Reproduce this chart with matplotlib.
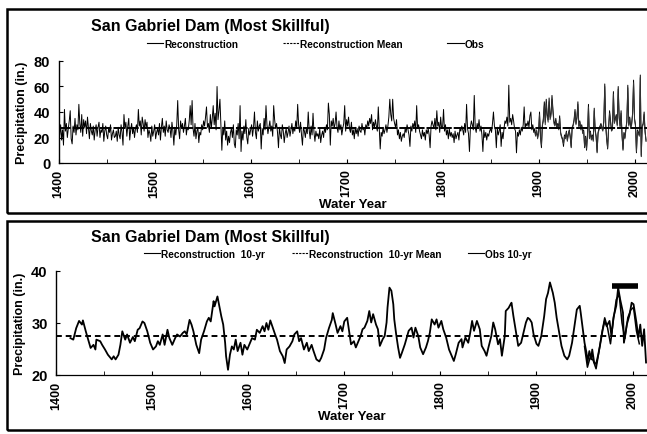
import numpy as np
import matplotlib
matplotlib.use("Agg")
import matplotlib.pyplot as plt
from matplotlib.patches import Rectangle
from matplotlib.lines import Line2D

# ---- annual reconstruction, water years 1400-2012 ----
recon_start = 1400
recon = [
    28, 22, 30, 18, 26, 14, 42, 25, 31, 20,   # 1400
    27, 33, 41, 19, 15, 29, 24, 35, 22, 30,   # 1410
    26, 46, 31, 24, 38, 21, 34, 28, 33, 23,   # 1420
    36, 27, 19, 31, 25, 22, 29, 18, 26, 30,   # 1430
    21, 28, 32, 20, 26, 24, 31, 17, 25, 29,   # 1440
    22, 19, 27, 24, 30, 18, 23, 26, 20, 21,   # 1450
    25, 17, 28, 22, 19, 30, 24, 14, 38, 27,   # 1460
    32, 21, 29, 35, 18, 26, 31, 23, 28, 20,   # 1470
    27, 30, 24, 42, 29, 33, 22, 36, 31, 25,   # 1480
    34, 28, 32, 20, 26, 23, 17, 29, 21, 25,   # 1490
    30, 19, 24, 27, 22, 31, 18, 28, 35, 24,   # 1500
    29, 21, 33, 26, 24, 30, 27, 20, 32, 25,   # 1510
    14, 28, 22, 30, 49, 26, 19, 33, 27, 31,   # 1520
    24, 29, 35, 22, 28, 26, 33, 45, 30, 49,   # 1530
    27, 21, 31, 19, 25, 28, 16, 24, 22, 30,   # 1540
    26, 33, 29, 36, 44, 28, 31, 24, 38, 27,   # 1550
    35, 45, 30, 39, 26, 60, 34, 41, 50, 31,   # 1560
    10, 28, 22, 33, 18, 25, 14, 21, 16, 24,   # 1570
    27, 20, 30, 15, 12, 26, 22, 31, 19, 45,   # 1580
    9, 25, 18, 29, 23, 34, 20, 15, 27, 22,    # 1590
    26, 30, 21, 28, 40, 24, 19, 33, 25, 29,   # 1600
    31, 11, 27, 22, 35, 26, 45, 30, 23, 28,   # 1610
    33, 25, 29, 21, 45, 34, 27, 31, 24, 12,   # 1620
    28, 22, 19, 30, 25, 16, 23, 27, 20, 24,   # 1630
    29, 21, 26, 31, 23, 28, 25, 33, 27, 46,   # 1640
    30, 24, 32, 22, 14, 28, 25, 20, 27, 23,   # 1650
    40, 26, 19, 29, 22, 39, 24, 17, 25, 21,   # 1660
    23, 19, 27, 16, 22, 25, 20, 28, 24, 30,   # 1670
    26, 47, 38, 14, 33, 29, 35, 27, 31, 40,   # 1680
    28, 24, 33, 26, 30, 22, 27, 31, 45, 25,   # 1690
    34, 29, 36, 27, 24, 32, 22, 26, 19, 28,   # 1700
    23, 27, 21, 29, 25, 24, 31, 26, 28, 22,   # 1710
    30, 27, 33, 29, 35, 31, 38, 26, 32, 28,   # 1720
    34, 29, 25, 44, 27, 11, 24, 21, 28, 23,   # 1730
    26, 30, 24, 29, 36, 50, 38, 33, 50, 35,   # 1740
    31, 28, 34, 22, 26, 19, 24, 17, 21, 23,   # 1750
    20, 27, 24, 30, 26, 22, 13, 29, 25, 31,   # 1760
    28, 33, 24, 45, 27, 30, 25, 22, 19, 26,   # 1770
    21, 24, 18, 26, 23, 27, 22, 12, 29, 33,   # 1780
    30, 27, 35, 26, 41, 29, 32, 24, 36, 27,   # 1790
    28, 42, 25, 30, 22, 26, 19, 27, 21, 24,   # 1800
    20, 23, 16, 25, 19, 22, 24, 18, 27, 25,   # 1810
    29, 26, 22, 31, 24, 46, 27, 23, 9, 28,    # 1820
    33, 30, 26, 53, 28, 24, 31, 27, 34, 25,   # 1830
    29, 22, 9, 26, 20, 24, 18, 23, 21, 25,    # 1840
    27, 24, 31, 40, 29, 26, 12, 28, 22, 25,   # 1850
    30, 13, 24, 19, 27, 33, 31, 36, 29, 61,   # 1860
    32, 35, 30, 38, 33, 27, 25, 8, 24, 21,    # 1870
    26, 22, 28, 25, 30, 44, 27, 31, 29, 33,   # 1880
    28, 37, 40, 26, 30, 24, 27, 22, 25, 20,   # 1890
    24, 40, 21, 12, 29, 35, 48, 32, 50, 38,   # 1900
    34, 51, 36, 39, 53, 42, 33, 30, 35, 28,   # 1910
    31, 27, 37, 24, 21, 19, 13, 22, 20, 25,   # 1920
    18, 23, 26, 21, 12, 28, 30, 34, 42, 31,   # 1930
    36, 48, 29, 33, 27, 30, 24, 26, 12, 21,   # 1940
    10, 23, 46, 20, 25, 19, 22, 18, 43, 26,   # 1950
    21, 8, 24, 27, 29, 31, 28, 26, 33, 62,    # 1960
    30, 19, 11, 28, 41, 33, 26, 27, 56, 32,   # 1970
    35, 38, 30, 60, 36, 29, 41, 22, 10, 24,   # 1980
    20, 27, 33, 61, 30, 36, 28, 31, 39, 65,   # 1990
    35, 30, 8, 26, 24, 22, 69, 5, 29, 31,     # 2000
    40, 25, 17,                               # 2010
]

# ---- observed annual record, 1896-2012 ----
obs_start = 1896
obs = [
    24, 21, 26, 19,
    23, 38, 20, 14, 30, 33, 45, 30, 47, 36,
    32, 48, 34, 37, 50, 40, 31, 29, 33, 27,
    30, 26, 35, 23, 20, 18, 15, 21, 19, 24,
    17, 22, 25, 20, 13, 27, 29, 33, 40, 30,
    35, 46, 28, 32, 26, 29, 23, 25, 13, 20,
    11, 22, 44, 19, 24, 18, 21, 17, 41, 25,
    20, 9, 23, 26, 28, 30, 27, 25, 32, 60,
    29, 18, 12, 27, 39, 32, 25, 26, 54, 31,
    34, 37, 29, 58, 35, 28, 39, 21, 11, 23,
    19, 26, 32, 59, 29, 35, 27, 30, 38, 63,
    34, 29, 9, 25, 23, 21, 67, 6, 28, 30,
    38, 24, 18,
]
recon_mean = 27.2

# ---- 10-yr running reconstruction (year, value) ----
smooth_years = [
    1415, 1418, 1421, 1424, 1427, 1428, 1431, 1434, 1436, 1439, 1441, 1442,
    1446, 1448, 1451, 1454, 1458, 1460, 1462, 1465, 1467, 1469, 1472, 1474,
    1477, 1480, 1482, 1485, 1487, 1490, 1492, 1495, 1498, 1501, 1504, 1506,
    1508, 1511, 1513, 1516, 1518, 1521, 1524, 1526, 1529, 1532, 1534, 1536,
    1539, 1541, 1543, 1546, 1549, 1551, 1554, 1557, 1559, 1561, 1564, 1565,
    1568, 1570, 1572, 1574, 1576, 1577, 1579, 1581, 1583, 1585, 1587, 1589,
    1592, 1594, 1596, 1599, 1602, 1604, 1607, 1609, 1612, 1615, 1617, 1619,
    1621, 1623, 1625, 1628, 1630, 1633, 1636, 1638, 1640, 1643, 1646, 1648,
    1651, 1653, 1655, 1658, 1661, 1663, 1666, 1668, 1671, 1674, 1676, 1679,
    1681, 1684, 1687, 1688, 1691, 1693, 1696, 1698, 1700, 1703, 1705, 1707,
    1710, 1712, 1714, 1717, 1719, 1721, 1724, 1726, 1728, 1730, 1733, 1735,
    1737, 1740, 1742, 1744, 1745, 1747, 1749, 1751, 1752, 1754, 1756, 1758,
    1760, 1763, 1765, 1767, 1770, 1772, 1774, 1777, 1779, 1782, 1785, 1787,
    1789, 1791, 1794, 1796, 1798, 1801, 1803, 1806, 1809, 1811, 1814, 1816,
    1819, 1822, 1823, 1826, 1829, 1831, 1833, 1835, 1838, 1841, 1843, 1846,
    1848, 1850, 1853, 1855, 1857, 1860, 1862, 1864, 1867, 1868, 1871, 1873,
    1874, 1876, 1879, 1881, 1884, 1887, 1889, 1891, 1893, 1895, 1897, 1900,
    1902, 1905, 1908, 1910, 1912, 1914, 1917, 1919, 1921, 1924, 1926, 1929,
    1932, 1934, 1937, 1940, 1942, 1945, 1946, 1948, 1950, 1952, 1953, 1955,
    1957, 1958, 1960, 1962, 1964, 1966, 1969, 1971, 1973, 1976, 1978, 1980,
    1983, 1985, 1987, 1990, 1991, 1994, 1997, 1999, 2001, 2004, 2006, 2008,
    2010, 2012, 2014,
]
smooth_vals = [
    27.1, 26.8, 29.0, 30.4, 29.7, 30.5, 28.4, 26.5, 25.2, 25.8, 24.9, 26.8,
    26.5, 25.8, 24.9, 23.9, 23.0, 23.6, 23.0, 23.9, 25.8, 28.4, 26.8, 27.8,
    26.2, 27.3, 26.5, 28.7, 29.0, 30.3, 30.0, 28.4, 26.2, 24.9, 25.5, 26.5,
    25.8, 27.8, 25.8, 28.7, 27.1, 25.8, 27.1, 27.8, 27.4, 28.1, 28.4, 27.8,
    30.6, 29.7, 28.4, 25.8, 24.2, 26.8, 28.4, 30.3, 31.0, 30.3, 34.2, 33.2,
    35.1, 33.2, 31.3, 29.7, 26.2, 23.6, 21.0, 23.9, 25.5, 24.9, 26.8, 24.6,
    26.2, 23.9, 25.8, 24.9, 26.2, 27.1, 26.8, 28.7, 28.1, 29.4, 28.4, 30.0,
    28.7, 30.5, 29.4, 27.8, 26.8, 24.6, 23.6, 22.3, 24.9, 25.5, 26.5, 27.8,
    28.4, 26.5, 27.1, 24.9, 26.2, 24.6, 25.8, 24.6, 23.0, 22.6, 23.3, 24.9,
    27.1, 29.0, 30.6, 31.9, 29.7, 28.1, 29.4, 28.4, 30.3, 31.0, 28.4, 25.9,
    26.5, 25.3, 26.2, 27.5, 28.8, 29.1, 30.4, 32.3, 30.1, 31.7, 29.7, 28.8,
    25.6, 26.9, 27.5, 30.1, 33.0, 36.8, 36.2, 33.6, 30.7, 27.8, 25.3, 23.3,
    24.3, 25.9, 27.2, 28.5, 29.1, 27.2, 29.1, 27.5, 25.3, 24.0, 25.3, 26.5,
    28.1, 30.7, 29.7, 30.7, 29.1, 30.4, 28.8, 27.2, 24.9, 24.0, 22.7, 24.0,
    26.2, 26.9, 25.3, 27.2, 26.2, 28.1, 30.4, 28.5, 30.4, 28.8, 25.6, 24.6,
    23.7, 25.3, 27.5, 30.1, 28.8, 25.9, 26.9, 23.7, 27.5, 32.3, 32.9, 33.6,
    33.9, 31.3, 27.8, 25.6, 26.2, 28.5, 30.1, 31.0, 30.7, 30.1, 27.8, 26.0,
    25.6, 27.5, 31.3, 34.6, 35.8, 37.8, 35.8, 33.9, 31.0, 27.8, 25.6, 23.7,
    23.0, 23.7, 26.2, 30.1, 32.6, 33.3, 32.0, 29.1, 26.2, 24.3, 22.4, 24.6,
    23.0, 24.9, 22.4, 22.1, 23.7, 25.6, 28.8, 30.4, 29.4, 30.4, 27.5, 31.0,
    33.3, 36.8, 34.6, 32.0, 26.2, 29.7, 31.7, 33.9, 33.6, 30.1, 27.2, 29.7,
    25.6, 28.8, 22.4,
]

# ---- 10-yr running observed ----
obs_smooth_years = [1950, 1953, 1956, 1959, 1962, 1965, 1968, 1971, 1974, 1977,
                    1980, 1983, 1986, 1989, 1992, 1995, 1998, 2001, 2004, 2007]
obs_smooth_vals = [25.5, 21.5, 23.5, 22.8, 21.2, 24.5, 28.0, 31.0, 29.0, 26.0,
                   30.5, 34.5, 35.5, 30.0, 27.0, 31.0, 32.5, 33.0, 28.5, 26.0]
smooth_mean = 27.5

# bar drawn above the recent period
bar_years = (1979, 2006)
bar_level = 37.1

recon_years = np.arange(recon_start, recon_start + len(recon))
obs_years = np.arange(obs_start, obs_start + len(obs))

plt.rcParams['font.family'] = ['Liberation Sans', 'DejaVu Sans']
plt.rcParams['font.weight'] = 'bold'

W, H = 647, 435
fig = plt.figure(figsize=(W / 100, H / 100), dpi=100)

# panel frames
fig.add_artist(Rectangle((7 / W, 1 - 214 / H), 1.2, 204 / H, transform=fig.transFigure,
                         fill=False, lw=1.8, ec='black'))
fig.add_artist(Rectangle((7 / W, 1 - 431 / H), 1.2, 209 / H, transform=fig.transFigure,
                         fill=False, lw=1.8, ec='black'))


def style_axis(ax, ylim, yticks):
    ax.set_ylim(*ylim)
    ax.set_yticks(yticks)
    ax.set_xticks(range(1400, 2001, 100))
    ax.set_xticks(range(1450, 2001, 100), minor=True)
    ax.spines['top'].set_visible(False)
    ax.spines['right'].set_visible(False)
    ax.spines['bottom'].set_linestyle((0, (2, 1)))
    ax.spines['bottom'].set_linewidth(0.9)
    ax.spines['left'].set_linewidth(1.0)
    ax.tick_params(axis='y', direction='in', length=3, labelsize=10.5, pad=6)
    ax.tick_params(axis='x', which='both', direction='in', length=3, labelsize=9,
                   labelrotation=90, pad=4)
    for lab in ax.get_xticklabels() + ax.get_yticklabels():
        lab.set_fontweight('bold')
    ax.set_ylabel('Precipitation (in.)', fontsize=9, fontweight='bold', labelpad=4)
    ax.set_xlabel('Water Year', fontsize=9.5, fontweight='bold', labelpad=1)


# ---- top panel: annual ----
ax1 = fig.add_axes([58.7 / W, 1 - 164 / H, 588.3 / W, 102 / H])
ax1.plot(recon_years, recon, color='black', lw=0.7)
ax1.plot(obs_years, obs, color='#333333', lw=0.7)
ax1.axhline(recon_mean, color='black', lw=1.4, ls=(0, (6, 1)))
ax1.set_xlim(1400, 2013)
style_axis(ax1, (0, 80), [0, 20, 40, 60, 80])
fig.text(210 / W, 1 - 27 / H, 'San Gabriel Dam (Most Skillful)', ha='center', va='center',
         fontsize=11.5, fontweight='bold')
h1 = [Line2D([], [], color='black', lw=0.8),
      Line2D([], [], color='black', lw=0.8, ls=(0, (2, 1))),
      Line2D([], [], color='black', lw=0.8)]
fig.legend(h1, ['Reconstruction', 'Reconstruction Mean', 'Obs'], ncol=3, frameon=False,
           loc='center left', bbox_to_anchor=(138 / W, 1 - 45 / H),
           handlelength=1.6, handletextpad=0.1, columnspacing=4.4,
           prop={'weight': 'bold', 'size': 7.3})

# ---- bottom panel: 10-yr ----
ax2 = fig.add_axes([56 / W, 1 - 376 / H, 591 / W, 104 / H])
ax2.plot(smooth_years, smooth_vals, color='black', lw=1.3)
ax2.plot(obs_smooth_years, obs_smooth_vals, color='black', lw=1.1)
ax2.axhline(smooth_mean, color='black', lw=1.4, ls=(0, (3, 2)))
ax2.hlines(bar_level, bar_years[0], bar_years[1], color='black', lw=4)
ax2.set_xlim(1400, 2015)
style_axis(ax2, (20, 40), [20, 30, 40])
fig.text(210 / W, 1 - 238 / H, 'San Gabriel Dam (Most Skillful)', ha='center', va='center',
         fontsize=11.5, fontweight='bold')
h2 = [Line2D([], [], color='black', lw=0.8),
      Line2D([], [], color='black', lw=0.8, ls=(0, (2, 1))),
      Line2D([], [], color='black', lw=0.8)]
fig.legend(h2, ['Reconstruction  10-yr', 'Reconstruction  10-yr Mean', 'Obs 10-yr'], ncol=3,
           frameon=False, loc='center left', bbox_to_anchor=(135 / W, 1 - 255 / H),
           handlelength=1.6, handletextpad=0.1, columnspacing=2.6,
           prop={'weight': 'bold', 'size': 7.3})

fig.savefig('out.png', dpi=100)
